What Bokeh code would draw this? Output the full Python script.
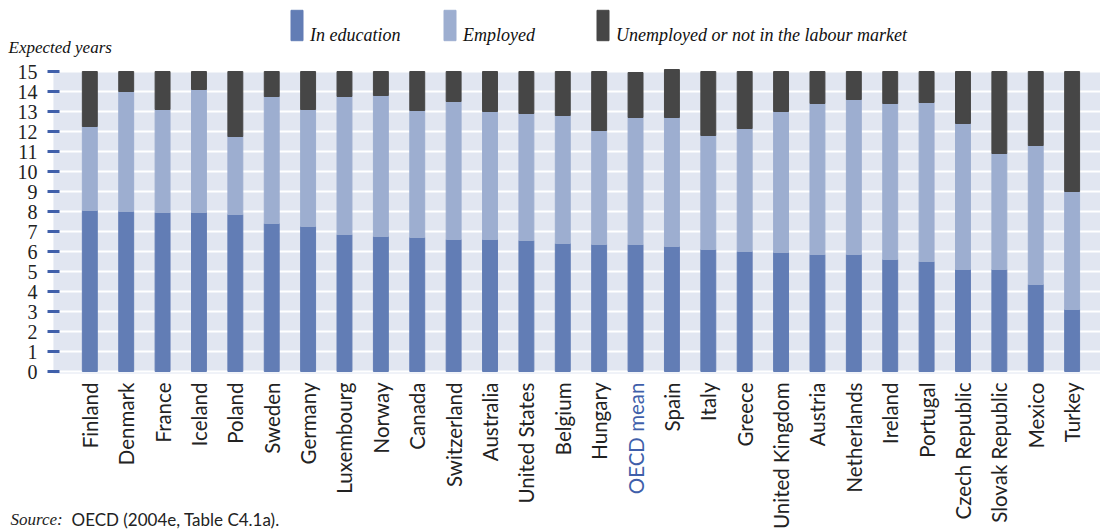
import math
from bokeh.plotting import figure
from bokeh.models import (Range1d, FixedTicker, Legend, LegendItem, Label,
                          BoxAnnotation, ColumnDataSource)
from bokeh.embed import file_html
from bokeh.resources import INLINE

countries = ["Finland", "Denmark", "France", "Iceland", "Poland", "Sweden", "Germany",
             "Luxembourg", "Norway", "Canada", "Switzerland", "Australia", "United States",
             "Belgium", "Hungary", "OECD mean", "Spain", "Italy", "Greece", "United Kingdom",
             "Austria", "Netherlands", "Ireland", "Portugal", "Czech Republic",
             "Slovak Republic", "Mexico", "Turkey"]
in_education = [8.05, 8.0, 7.95, 7.95, 7.85, 7.4, 7.25, 6.85, 6.75, 6.7, 6.6, 6.6, 6.55,
                6.4, 6.35, 6.35, 6.25, 6.1, 6.0, 5.95, 5.85, 5.85, 5.6, 5.5, 5.1, 5.1, 4.35, 3.1]
employed = [4.2, 6.0, 5.15, 6.15, 3.9, 6.35, 5.85, 6.9, 7.05, 6.35, 6.9, 6.4, 6.35,
            6.4, 5.7, 6.35, 6.45, 5.7, 6.15, 7.05, 7.55, 7.75, 7.8, 7.95, 7.3, 5.8, 6.95, 5.9]
unemployed = [2.75, 1.0, 1.9, 0.9, 3.25, 1.25, 1.9, 1.25, 1.2, 1.95, 1.5, 2.0, 2.1,
              2.2, 2.95, 2.25, 2.4, 3.2, 2.85, 2.0, 1.6, 1.4, 1.6, 1.55, 2.6, 4.1, 3.7, 6.0]
series_labels = ["In education", "Employed", "Unemployed or not in the labour market"]
y_ticks = list(range(0, 16))
highlight = "OECD mean"
y_title = "Expected years"
source_label = "Source:"
source_text = "OECD (2004e, Table C4.1a)."

colors = ["#627DB5", "#9DAED0", "#464646"]
xs = list(range(len(countries)))

source = ColumnDataSource(dict(x=xs, in_education=in_education, employed=employed,
                               unemployed=unemployed))

# frame covers whole canvas; axes are drawn at fixed locations inside it
p = figure(width=1100, height=532, output_backend="svg", toolbar_location=None,
           x_range=Range1d(-2.455, 27.78), y_range=Range1d(-8.05, 18.55),
           min_border=0, min_border_left=0, min_border_right=0,
           min_border_top=0, min_border_bottom=0)
p.outline_line_color = None
p.background_fill_color = "white"
p.border_fill_color = "white"

bg = BoxAnnotation(left=-1.0, bottom=-0.1, top=15, fill_color="#E1E6F1", fill_alpha=1.0,
                   line_color=None, level="image")
p.add_layout(bg)

renderers = p.vbar_stack(["in_education", "employed", "unemployed"], x="x", width=0.41,
                         color=colors, source=source)

# y axis
p.yaxis.fixed_location = -1.0
p.yaxis.ticker = FixedTicker(ticks=y_ticks)
p.yaxis.axis_line_color = None
p.yaxis.major_tick_in = 6
p.yaxis.major_tick_out = 6
p.yaxis.major_tick_line_color = "#3F5FAA"
p.yaxis.major_tick_line_width = 3
p.yaxis.minor_tick_line_color = None
p.yaxis.major_label_text_font = "Liberation Serif"
p.yaxis.major_label_text_font_size = "20px"
p.yaxis.major_label_text_color = "#222222"
p.yaxis.major_label_standoff = 10

# x axis
p.xaxis.fixed_location = -0.1
p.xaxis.ticker = FixedTicker(ticks=xs)
p.xaxis.major_label_overrides = {i: ("" if c == highlight else c) for i, c in enumerate(countries)}
p.xaxis.major_label_orientation = math.pi / 2
p.xaxis.axis_line_color = None
p.xaxis.major_tick_line_color = None
p.xaxis.minor_tick_line_color = None
p.xaxis.major_label_text_font = "Lato"
p.xaxis.major_label_text_font_size = "20.5px"
p.xaxis.major_label_text_color = "#222222"
p.xaxis.major_label_standoff = 3

p.xgrid.grid_line_color = None
p.ygrid.ticker = FixedTicker(ticks=y_ticks)
p.ygrid.grid_line_color = "white"
p.ygrid.grid_line_width = 2

hi = countries.index(highlight)
p.add_layout(Label(x=hi, y=-0.55, text=highlight, angle=math.pi / 2, text_align="right",
                   text_baseline="middle", text_font="Lato", text_font_size="20.5px",
                   text_color="#3F5FAA"))

p.add_layout(Label(x=-2.235, y=16.2, text=y_title, text_font="Liberation Serif",
                   text_font_style="italic", text_font_size="17px", text_color="#111111",
                   text_baseline="alphabetic"))

p.add_layout(Label(x=-2.18, y=-7.4, text=source_label, text_font="Liberation Serif",
                   text_font_style="italic", text_font_size="17px", text_color="#222222",
                   text_baseline="alphabetic"))
p.add_layout(Label(x=-0.503, y=-7.4, text=source_text, text_font="Lato",
                   text_font_size="17px", text_color="#222222", text_baseline="alphabetic"))

# legend: label text pushed down to the bottom of the tall swatch (blank first line)
legend = Legend(items=[LegendItem(label="\n" + lab, renderers=[r])
                       for lab, r in zip(series_labels, renderers)],
                orientation="horizontal", location=(289, 486),
                glyph_width=15, glyph_height=38, label_width=100,
                label_standoff=6, spacing=32,
                padding=0, margin=0, border_line_color=None, background_fill_alpha=0,
                label_text_font="Liberation Serif", label_text_font_style="italic",
                label_text_font_size="18px", label_text_color="#111111",
                label_text_baseline="middle", label_text_line_height=1.45)
p.add_layout(legend)

open("out.html", "w").write(file_html(p, INLINE))
